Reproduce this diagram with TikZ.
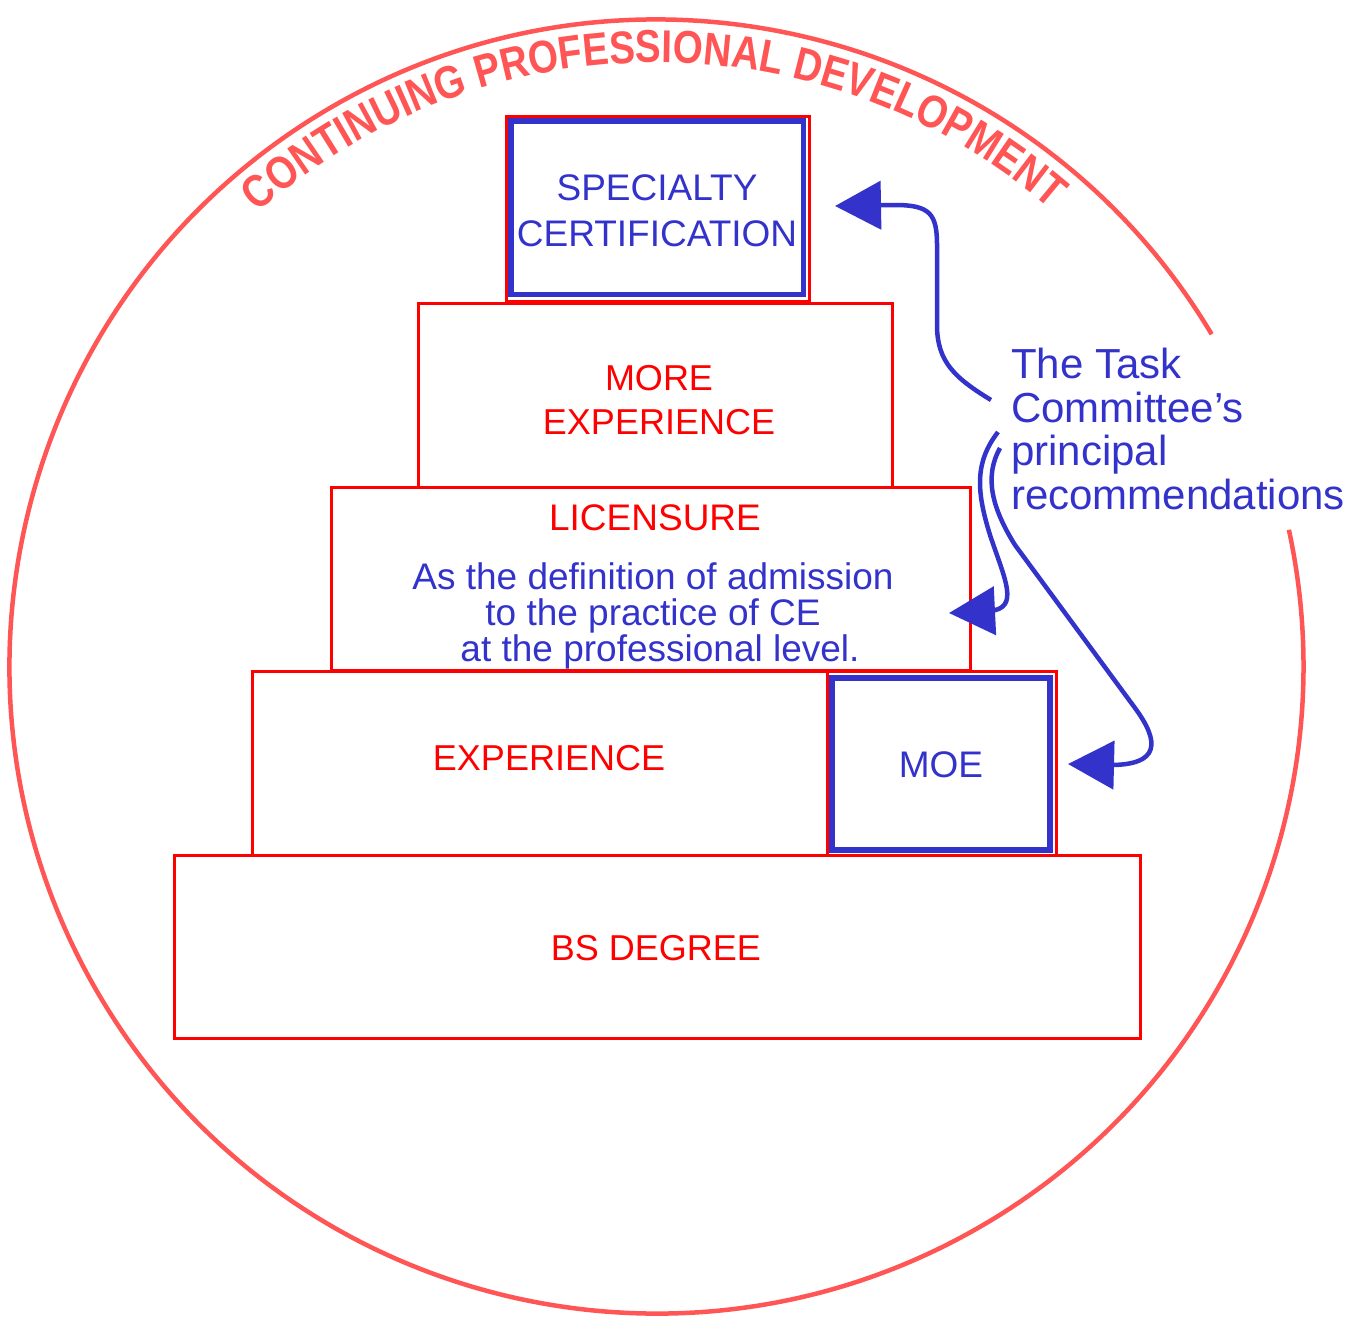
\documentclass[tikz,border=0pt]{standalone}
\usepackage{fontspec}
\setmainfont{Liberation Sans}
\newfontfamily\arcfont[FakeStretch=0.84]{Liberation Sans}
\usetikzlibrary{arrows.meta,decorations.text}
\definecolor{tred}{HTML}{FF0000}
\definecolor{tblue}{HTML}{3333CC}
\definecolor{cpd}{HTML}{FF5555}
\begin{document}
\begin{tikzpicture}[x=1pt,y=-1pt,
  redbox/.style={draw=tred, line width=3pt, rectangle, inner sep=0pt},
  bluebox/.style={draw=tblue, line width=5.5pt, rectangle, inner sep=0pt},
  redtext/.style={text=tred, font=\fontsize{36}{44}\selectfont, inner sep=0pt, align=center},
  bluetext/.style={text=tblue, font=\fontsize{37}{46}\selectfont, inner sep=0pt, align=center},
  arr/.style={draw=tblue, line width=4.5pt, -{Triangle[length=46pt,width=48pt]}},
]
\useasboundingbox (0,0) rectangle (1367,1318);

% outer circle and arc text
\begin{scope}[shift={(656.5,666.5)}, y=1pt]
  \draw[cpd, line width=4.5pt] (30.9:647) arc (30.9:372.2:647);
  \path[decorate, decoration={text along path, text align=center, text color=cpd,
     text={|\arcfont\bfseries\fontsize{46}{46}\selectfont|CONTINUING PROFESSIONAL DEVELOPMENT}}]
     (136:604) arc (136:44.5:604);
\end{scope}

% boxes
\node[redbox, minimum width=303pt, minimum height=185pt] (specr) at (657.5,208.5) {};
\node[bluebox, minimum width=292.5pt, minimum height=173.5pt] (specb) at (657.25,207.75) {};
\node[redbox, minimum width=474pt, minimum height=184pt] (more) at (655,395) {};
\node[redbox, minimum width=639pt, minimum height=183pt] (lic) at (650.5,578.5) {};
\node[redbox, minimum width=804pt, minimum height=184pt] (exp) at (654,763) {};
\node[redbox, minimum width=229pt, minimum height=184pt] (moer) at (941.5,763) {};
\node[bluebox, minimum width=218pt, minimum height=172pt] (moeb) at (941,764) {};
\node[redbox, minimum width=966pt, minimum height=183pt] (bs) at (657,946.5) {};

% texts
\node[bluetext, anchor=north] (spect) at (657,174) {SPECIALTY\\CERTIFICATION};
\node[redtext, anchor=north] (moret) at (659,365) {MORE\\EXPERIENCE};
\node[redtext, font=\fontsize{37}{37}\selectfont, anchor=base] (lict) at (655,530) {LICENSURE};
\node[bluetext, font=\fontsize{37}{36.3}\selectfont, anchor=north] (deft) at (653,562)
  {As the definition of admission\\to the practice of CE\\\hspace*{14pt}at the professional level.};
\node[redtext, anchor=base] (expt) at (549,770) {EXPERIENCE};
\node[bluetext, anchor=base] (moet) at (941,777) {MOE};
\node[redtext, anchor=base] (bst) at (656,960) {BS DEGREE};
\node[text=tblue, font=\fontsize{42}{43.5}\selectfont, align=left, anchor=north west, inner sep=0pt]
  (task) at (1011,348) {The Task\\Committee’s\\principal\\recommendations};

% arrow ends
\coordinate (s1) at (991,400);
\coordinate (s2) at (998,432);
\coordinate (s3) at (1000,448);
\coordinate (e1) at (835,206);
\coordinate (e2) at (949,613);
\coordinate (e3) at (1068,764);

\draw[arr] (s1) .. controls (955,378) and (937,362) .. (937,325) -- (937,245)
   .. controls (937,214) and (930,205) .. (895,205) -- (e1);
\draw[arr] (s2) .. controls (975,462) and (976,490) .. (990,535)
   .. controls (1005,580) and (1020,608) .. (990,611) -- (e2);
\draw[arr] (s3) .. controls (985,475) and (990,505) .. (1015,545) -- (1135,708)
   .. controls (1160,742) and (1160,765) .. (1110,765) -- (e3);
\end{tikzpicture}
\end{document}
